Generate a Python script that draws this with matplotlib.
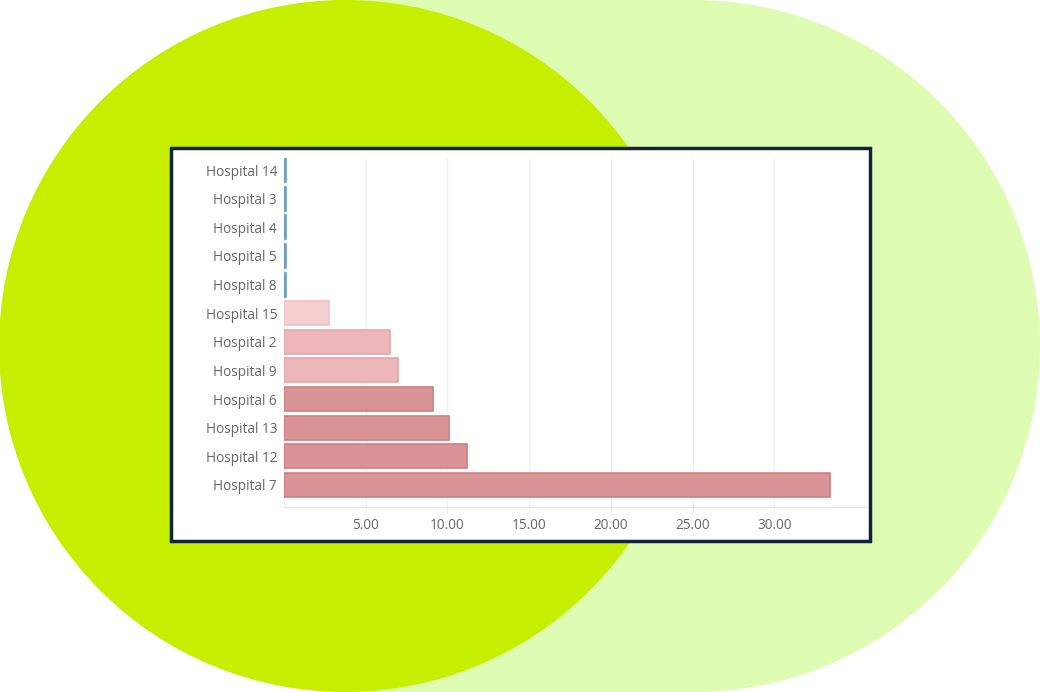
import matplotlib
matplotlib.use("Agg")
import matplotlib.pyplot as plt
from matplotlib.patches import Circle, Rectangle

hospitals = ["Hospital 14", "Hospital 3", "Hospital 4", "Hospital 5", "Hospital 8",
             "Hospital 15", "Hospital 2", "Hospital 9", "Hospital 6", "Hospital 13",
             "Hospital 12", "Hospital 7"]
values = [0.14, 0.14, 0.14, 0.14, 0.14, 2.75, 6.5, 7.0, 9.1, 10.1, 11.2, 33.4]
fill_colors = ["#6f9fc6"] * 5 + ["#f7cfd1", "#edb7b9", "#edb7b9",
                                 "#d99495", "#d99495", "#d99495", "#d99495"]
edge_colors = ["#6f9fc6"] * 5 + ["#f2c0c3", "#e5a5a8", "#e5a5a8",
                                 "#d07e81", "#d07e81", "#d07e81", "#d07e81"]
xticks = [5, 10, 15, 20, 25, 30]
xtick_labels = ["5.00", "10.00", "15.00", "20.00", "25.00", "30.00"]

W, H = 1040, 692
fig = plt.figure(figsize=(W / 100, H / 100), dpi=100)
fig.patch.set_facecolor("white")

# background shapes
bg = fig.add_axes([0, 0, 1, 1])
bg.set_xlim(0, W)
bg.set_ylim(H, 0)
bg.axis("off")
pale = "#defdb2"
lime = "#c6ef00"
bg.add_patch(Circle((694, 346), 346, color=pale, lw=0))
bg.add_patch(Rectangle((345, 0), 349, 692, color=pale, lw=0))
bg.add_patch(Circle((345, 346), 346, color=lime, lw=0))
# white chart card with dark border
bg.add_patch(Rectangle((171, 148), 699, 393, facecolor="white",
                       edgecolor="#0f2438", lw=2.5))

ax = fig.add_axes([284 / W, 1 - 507 / H, (866 - 284) / W, (507 - 158) / H])
ax.set_facecolor("none")
n = len(hospitals)
ypos = [n - 1 - i for i in range(n)]
ax.barh(ypos, values, height=0.84, color=fill_colors, edgecolor=edge_colors,
        linewidth=1.2, zorder=3)
ax.set_xlim(0, 35.6)
ax.set_ylim(-0.77, n - 1 + 0.42)
ax.set_yticks(ypos)
ax.set_yticklabels(hospitals)
ax.set_xticks(xticks)
ax.set_xticklabels(xtick_labels)
for lab in ax.get_yticklabels() + ax.get_xticklabels():
    lab.set_fontfamily("Open Sans")
    lab.set_fontsize(9.8)
    lab.set_color("#666666")
ax.tick_params(axis="y", length=0, pad=5)
ax.tick_params(axis="x", length=5, color="#eeeeee", pad=3)
ax.grid(axis="x", color="#f0f0f0", lw=0.9, zorder=0)
for s in ["top", "right"]:
    ax.spines[s].set_visible(False)
ax.spines["bottom"].set_color("#e3e3e3")
ax.spines["left"].set_color("#ececec")

fig.savefig("out.png", dpi=100)
